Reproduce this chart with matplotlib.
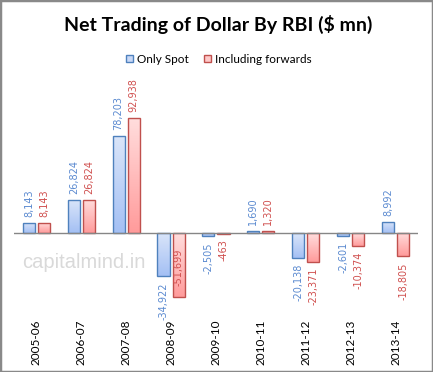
import numpy as np
import matplotlib
matplotlib.use('Agg')
from matplotlib import pyplot as plt
from matplotlib.patches import Patch, Rectangle
from matplotlib.colors import LinearSegmentedColormap

years = ['2005-06', '2006-07', '2007-08', '2008-09', '2009-10',
         '2010-11', '2011-12', '2012-13', '2013-14']
only_spot = [8143, 26824, 78203, -34922, -2505, 1690, -20138, -2601, 8992]
incl_fwd = [8143, 26824, 92938, -51699, -463, 1320, -23371, -10374, -18805]

fig = plt.figure(figsize=(4.33, 3.72), dpi=100)
ax = fig.add_axes([0.0323, 0.1747, 0.933, 0.531])

x = np.arange(len(years))
w = 0.27
off = 0.168

blue_cm = LinearSegmentedColormap.from_list('b', ['#DAE5F9', '#A4C0F4'])
red_cm = LinearSegmentedColormap.from_list('r', ['#FFDDDD', '#FF9B9B'])
grad = np.linspace(0, 1, 64).reshape(-1, 1)


def draw_bars(xs, vals, cmap, edge, txtcol):
    bars = ax.bar(xs, vals, width=w, color='none', edgecolor=edge, linewidth=1.0, zorder=3)
    for b, v in zip(bars, vals):
        x0 = b.get_x()
        top = max(v, 0)
        bot = min(v, 0)
        im = ax.imshow(grad, cmap=cmap, aspect='auto', origin='upper',
                       extent=[x0, x0 + w, bot, top], zorder=2, interpolation='bilinear')
        im.set_clip_path(b)
        lab = f'{v:,}'
        cx = x0 + w / 2
        if v >= 0:
            ax.annotate(lab, (cx, v), xytext=(0, 4.3), textcoords='offset points',
                        rotation=90, ha='center', va='bottom', fontsize=7,
                        color=txtcol, family='DejaVu Sans')
        elif v < -45000:
            # no room below, Excel puts it inside the bar
            ax.annotate(lab, (cx, v), xytext=(0, 8), textcoords='offset points',
                        rotation=90, ha='center', va='bottom', fontsize=7,
                        color=txtcol, family='DejaVu Sans')
        else:
            ax.annotate(lab, (cx, v), xytext=(0, -4.3), textcoords='offset points',
                        rotation=90, ha='center', va='top', fontsize=7,
                        color=txtcol, family='DejaVu Sans')


draw_bars(x - off, only_spot, blue_cm, '#4F81BD', '#5B8AD0')
draw_bars(x + off, incl_fwd, red_cm, '#C0504D', '#D0504F')

ax.axhline(0, color='#868686', linewidth=1.0, zorder=4)
ax.set_xlim(-0.5, len(years) - 0.5)
ax.set_ylim(-60000, 100000)
ax.set_yticks([])
ax.set_xticks(x)
ax.set_xticklabels(years, rotation=90, fontsize=8.5, family='Lato')
ax.tick_params(axis='x', length=0, pad=9)
for s in ax.spines.values():
    s.set_visible(False)
ax.patch.set_alpha(0)

fig.text(0.505, 0.933, 'Net Trading of Dollar By RBI ($ mn)', ha='center', va='center',
         fontsize=14, fontweight='bold', family='Lato')

handles = [Patch(facecolor='#C9D9F7', edgecolor='#4F81BD', label='Only Spot'),
           Patch(facecolor='#FFC9C9', edgecolor='#C0504D', label='Including forwards')]
fig.legend(handles=handles, loc='center', bbox_to_anchor=(0.505, 0.841), ncol=2,
           frameon=False, handlelength=0.6, handleheight=0.6, handletextpad=0.3,
           columnspacing=1.3, prop={'family': 'Lato', 'size': 8.5})

fig.text(22 / 433, 1 - 263 / 372, 'capitalmind.in', ha='left', va='center',
         fontsize=14.5, color='#D9D9D9', family='Liberation Sans')

fig.patches.append(Rectangle((0, 0), 1, 1, transform=fig.transFigure, fill=False,
                             edgecolor='#898989', linewidth=2.5))

fig.savefig('out.png', dpi=100)
